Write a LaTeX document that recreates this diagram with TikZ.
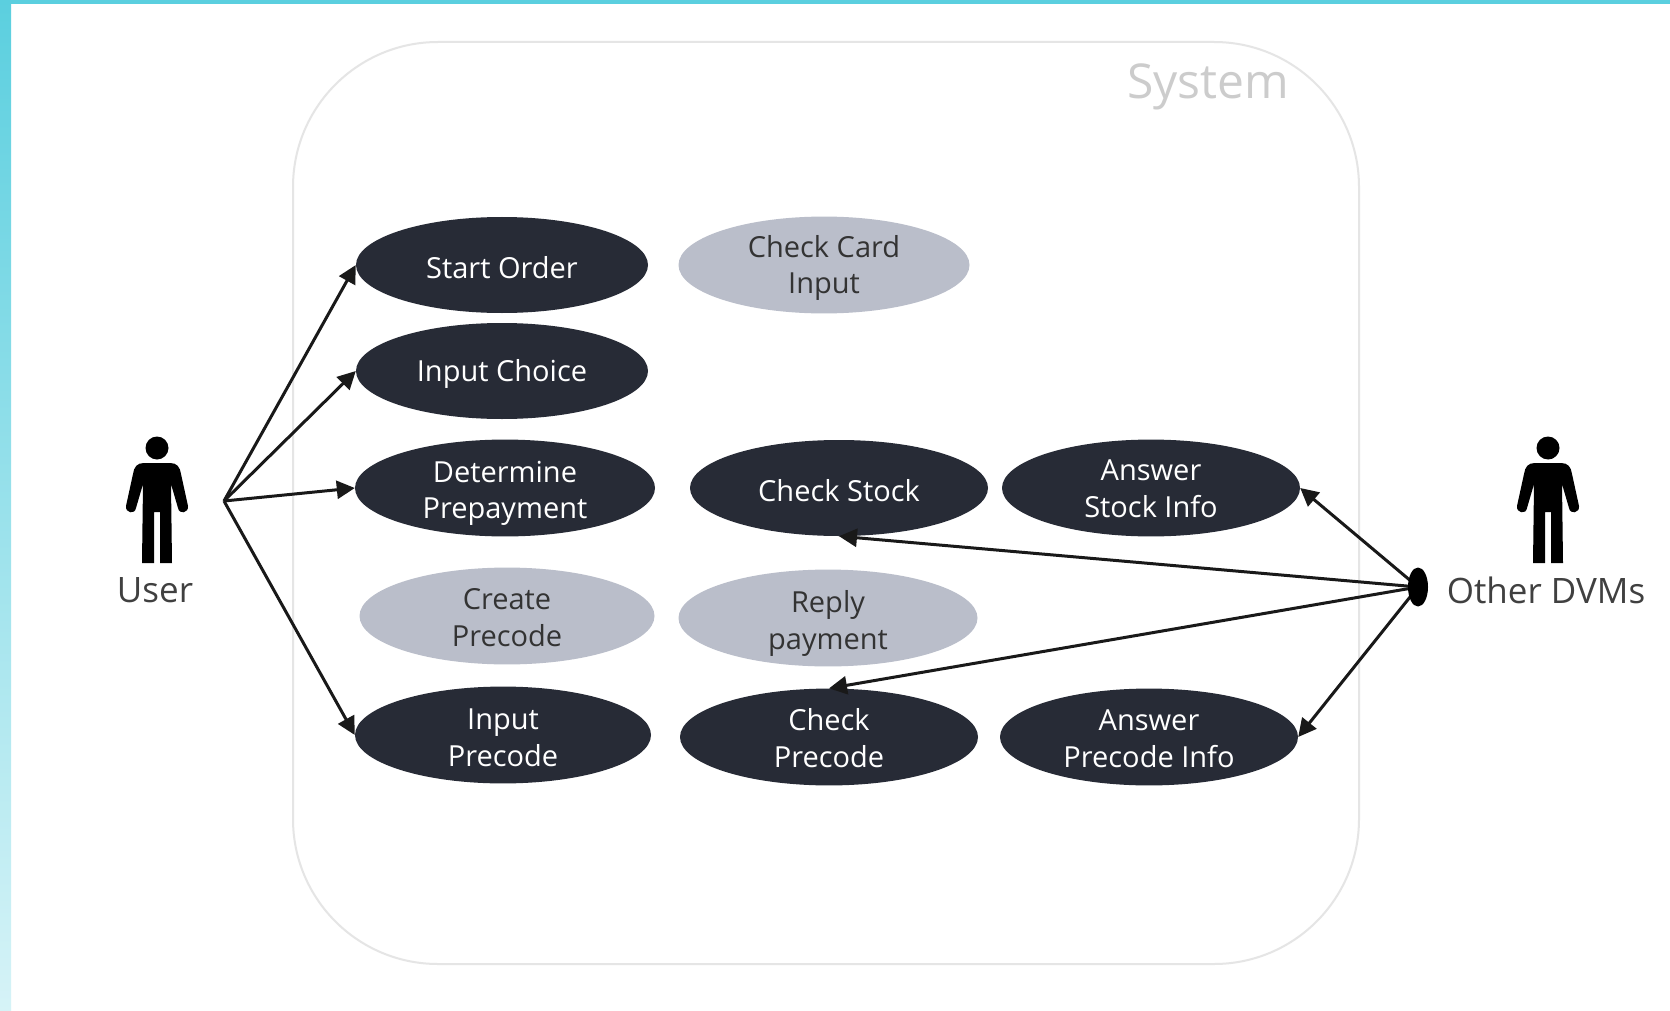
\documentclass[tikz,border=0pt]{standalone}
\usepackage{fontspec}
\setmainfont{Open Sans}
\usetikzlibrary{shapes.geometric,arrows.meta}
\definecolor{barcol}{HTML}{5BCFDF}
\definecolor{darkuse}{HTML}{272B36}
\definecolor{greyuse}{HTML}{BABECA}
\newcommand{\dnline}[2]{\raisebox{-#1pt}[26pt][6pt]{#2}}
\tikzset{
  x=1pt,y=-1pt,
  usecase/.style={ellipse,inner sep=0pt,align=center,minimum height=96pt,font=\fontsize{29}{36.5}\selectfont},
  tshift/.style={execute at begin node={\rule{0pt}{#1}}},
  dark/.style={usecase,fill=darkuse,text=white},
  grey/.style={usecase,fill=greyuse,text=black!80},
  actorlabel/.style={font=\fontsize{35}{40}\selectfont,text=black!75,inner sep=0pt},
  link/.style={line width=3pt,draw=black!90,-{Triangle[length=18pt,width=18pt]}},
  hub/.style={ellipse,fill=black,inner sep=0pt,minimum width=20pt,minimum height=39pt},
  actor/.pic={
    \fill[black] (0,0) circle (11.5);
    \fill[black] (-13,15) -- (13,15) .. controls (20,15) and (23,19) .. (24,26) -- (31,58)
      .. controls (32,65) and (22,67) .. (21,60) -- (14,36) -- (15,115) -- (3,115) -- (3,64) -- (-3,64) -- (-3,115) -- (-15,115) -- (-14,36) -- (-21,60)
      .. controls (-22,67) and (-32,65) .. (-31,58) -- (-24,26) .. controls (-23,19) and (-20,15) .. (-13,15) -- cycle;
  }
}
\begin{document}
\begin{tikzpicture}
\useasboundingbox (0,0) rectangle (1670,1011);
\fill[white] (0,0) rectangle (1670,1011);
\shade[top color=barcol,bottom color=barcol!25] (0,0) rectangle (11,1011);
\fill[barcol] (0,0) rectangle (1670,4);
\draw[black!10,line width=2pt,rounded corners=145pt] (293,42) rectangle (1359,964);
\node[font=\fontsize{48}{58}\selectfont,text=black!20,inner sep=0pt] (sys) at (1208,87) {System};

\node[dark,minimum width=292pt,tshift=28pt] (start) at (502,265) {Start Order};
\node[grey,minimum width=291pt] (card) at (824,265) {\dnline{0.5}{Check Card}\\\dnline{0.5}{Input}};
\node[dark,minimum width=292pt,tshift=28pt] (choice) at (502,371) {Input Choice};
\node[dark,minimum width=300pt] (prepay) at (505,488) {\dnline{2.7}{Determine}\\\dnline{2.7}{Prepayment}};
\node[dark,minimum width=298pt,tshift=28pt] (stock) at (839,488) {Check Stock};
\node[dark,minimum width=298pt] (astock) at (1151,488) {\dnline{1}{Answer}\\\dnline{1}{Stock Info}};
\node[grey,minimum width=295pt] (create) at (507,616) {\dnline{2}{Create}\\\dnline{2}{Precode}};
\node[grey,minimum width=299pt] (reply) at (828,618) {\dnline{3}{Reply}\\\dnline{3}{payment}};
\node[dark,minimum width=296pt] (inpre) at (503,735) {\dnline{3}{Input}\\\dnline{3}{Precode}};
\node[dark,minimum width=298pt] (chkpre) at (829,737) {\dnline{2}{Check}\\\dnline{2}{Precode}};
\node[dark,minimum width=298pt] (apre) at (1149,737) {\dnline{2}{Answer}\\\dnline{2}{Precode Info}};

\pic at (157,448) {actor};
\pic at (1548,448) {actor};
\node[actorlabel] (user) at (155,590) {User};
\node[actorlabel] (other) at (1546,590) {Other DVMs};

\coordinate (uhub) at (224,501);
\draw[link] (uhub) -- (start.west);
\draw[link] (uhub) -- (choice.west);
\draw[link] (uhub) -- (prepay.west);
\draw[link] (uhub) -- (inpre.west);
\coordinate (ohubc) at (1418,587);
\draw[link] (ohubc) -- (astock.east);
\draw[link] (ohubc) -- (stock.south);
\draw[link] (ohubc) -- (chkpre.north);
\draw[link] (ohubc) -- (apre.east);
\node[hub] (ohub) at (ohubc) {};
\end{tikzpicture}
\end{document}
